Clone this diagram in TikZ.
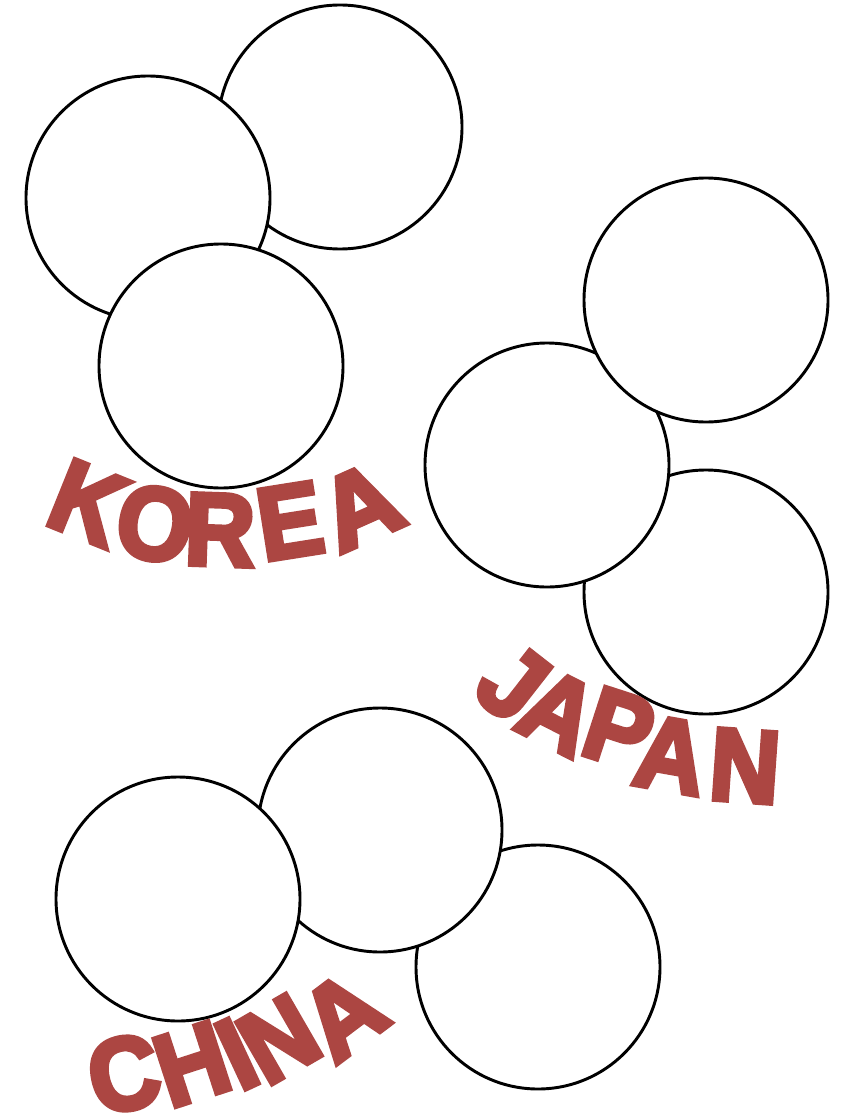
\documentclass[tikz,border=0pt]{standalone}
\usepackage{fontspec}
\newfontfamily\wordartfont[FakeBold=5]{Liberation Sans}
\usetikzlibrary{positioning}
\definecolor{wordred}{RGB}{172,70,66}

\begin{document}
\begin{tikzpicture}[
    x=0.75pt, y=-0.75pt,
    blob/.style={circle, draw, line width=2.2pt, fill=white, minimum size=183pt, inner sep=0pt},
    letter/.style={rotate=#1, transform shape, xscale=1.25, yscale=1.33, inner sep=0pt, text=wordred, font=\wordartfont\bfseries\fontsize{58}{58}\selectfont}
]
    \useasboundingbox[fill=white] (0,0) rectangle (849,1120);

    % Korea
    \node[blob] (kTop) at (340,127) {};
    \node[blob] (kLeft) at (148,198) {};
    \node[blob] (kBottom) at (221,366) {};

    % Japan
    \node[blob] (jBottom) at (706,592) {};
    \node[blob] (jLeft) at (547,465) {};
    \node[blob] (jTop) at (706,300) {};

    % China
    \node[blob] (cRight) at (538,967) {};
    \node[blob] (cTop) at (380,830) {};
    \node[blob] (cLeft) at (178,899) {};

    % Labels
    \node[letter=-22] (korK) at (88,503) {K};
    \node[letter=-10] (korO) at (155,524) {O};
    \node[letter=-2] (korR) at (220,530) {R};
    \node[letter=9] (korE) at (290,521) {E};
    \node[letter=24, xscale=1.1] (korA) at (360,506) {A};

    \node[letter=-38] (japJ) at (513,683) {J};
    \node[letter=-27] (japA) at (559,712) {A};
    \node[letter=-18] (japP) at (619,729) {P};
    \node[letter=-10] (japAb) at (671,755) {A};
    \node[letter=-4] (japN) at (745,766) {N};

    \node[letter=12] (chiC) at (124,1074) {C};
    \node[letter=18] (chiH) at (192,1064) {H};
    \node[letter=25] (chiI) at (237,1054) {I};
    \node[letter=30] (chiN) at (279,1039) {N};
    \node[letter=37, xscale=1.05] (chiA) at (343,1015) {A};
\end{tikzpicture}
\end{document}
